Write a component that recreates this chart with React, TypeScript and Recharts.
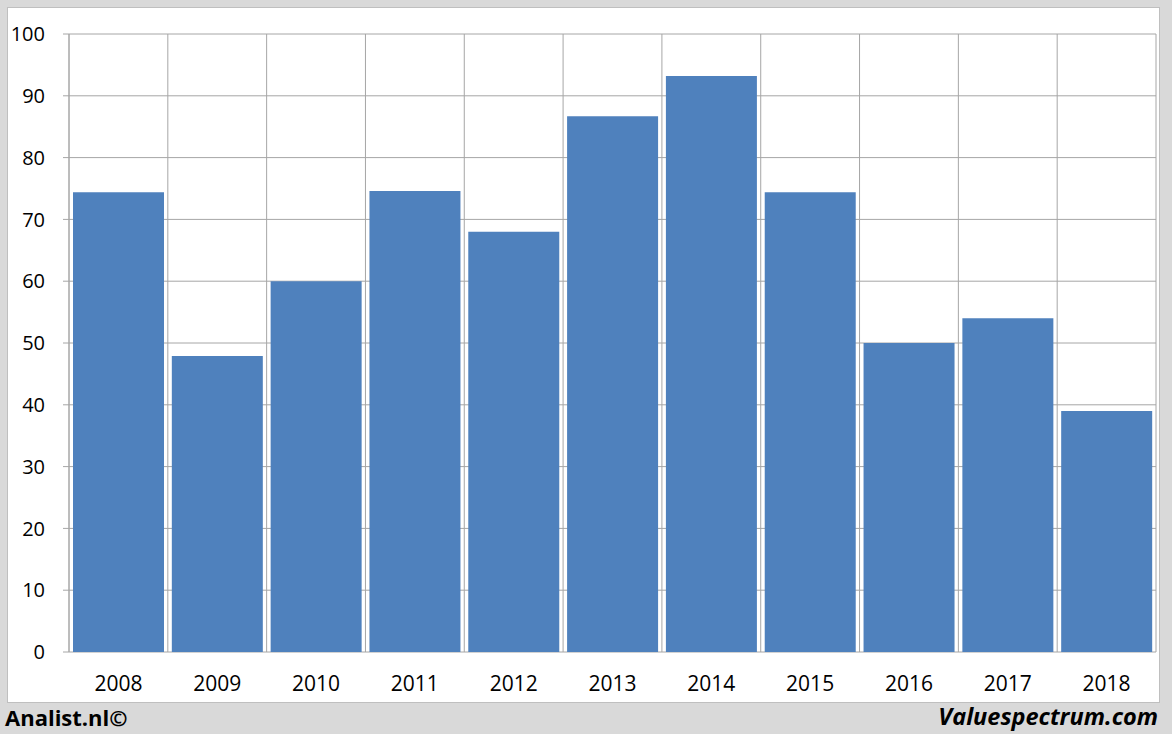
import { BarChart, Bar, XAxis, YAxis, CartesianGrid } from "recharts";

const years = ["2008", "2009", "2010", "2011", "2012", "2013", "2014", "2015", "2016", "2017", "2018"];
const values = [74.4, 47.9, 60.0, 74.6, 68.0, 86.7, 93.2, 74.4, 50.0, 54.0, 39.0];
const yTicks = [0, 10, 20, 30, 40, 50, 60, 70, 80, 90, 100];
const boundaryTicks = [0, 1, 2, 3, 4, 5, 6, 7, 8, 9, 10, 11];

const data = years.map((year, i) => ({ year, value: values[i] }));

const FONT = "'Open Sans', 'Liberation Sans', sans-serif";
const GRID = "#a6a6a6";

export default function App() {
  return (
    <div
      style={{
        position: "absolute",
        left: 0,
        top: 0,
        width: 1172,
        height: 734,
        background: "#d9d9d9",
        fontFamily: FONT,
      }}
    >
      <div
        style={{
          position: "absolute",
          left: 7,
          top: 7,
          width: 1151,
          height: 694,
          background: "#ffffff",
          border: "1px solid #bfbfbf",
        }}
      />
      <div style={{ position: "absolute", left: 0, top: 0 }}>
        <BarChart
          width={1172}
          height={734}
          data={data}
          margin={{ top: 34, right: 16, left: 9, bottom: 32 }}
          barCategoryGap={4}
        >
          <CartesianGrid
            stroke={GRID}
            strokeWidth={1}
            horizontal
            vertical
            verticalCoordinatesGenerator={({ offset }: any) =>
              boundaryTicks.map((t) => offset.left + (t * offset.width) / years.length)
            }
          />
          <XAxis
            xAxisId="edges"
            type="number"
            dataKey="edge"
            domain={[0, years.length]}
            ticks={boundaryTicks}
            height={0}
            tick={false}
            tickSize={8}
            tickLine={{ stroke: GRID }}
            axisLine={{ stroke: GRID }}
            allowDataOverflow
          />
          <XAxis
            xAxisId="cat"
            dataKey="year"
            height={50}
            tickLine={false}
            axisLine={false}
            tickSize={8}
            tickMargin={16}
            interval={0}
            tick={{ fill: "#000000", fontSize: 21, fontFamily: FONT }}
          />
          <YAxis
            width={60}
            domain={[0, 100]}
            ticks={yTicks}
            interval={0}
            tickSize={6}
            tickMargin={18}
            tickLine={{ stroke: GRID }}
            axisLine={{ stroke: GRID }}
            tick={{ fill: "#000000", fontSize: 20, fontFamily: FONT }}
          />
          <Bar dataKey="value" xAxisId="cat" fill="#4f81bd" isAnimationActive={false} />
        </BarChart>
      </div>
      <div
        style={{
          position: "absolute",
          left: 5,
          top: 702,
          fontSize: 22,
          fontWeight: 700,
          color: "#000000",
          lineHeight: "30px",
        }}
      >
        Analist.nl©
      </div>
      <div
        style={{
          position: "absolute",
          right: 14,
          top: 701,
          fontSize: 23.5,
          fontWeight: 700,
          fontStyle: "italic",
          color: "#000000",
          lineHeight: "30px",
        }}
      >
        Valuespectrum.com
      </div>
    </div>
  );
}
